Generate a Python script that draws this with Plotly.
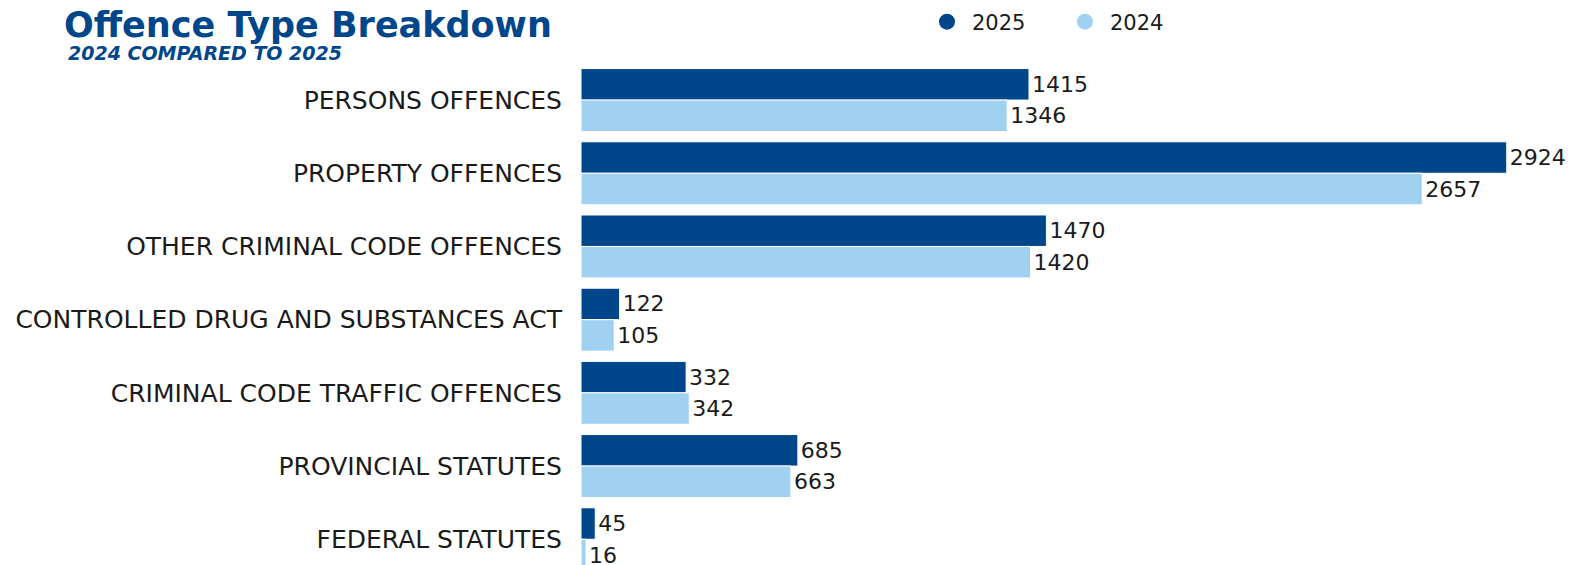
import plotly.graph_objects as go

categories = [
    "PERSONS OFFENCES",
    "PROPERTY OFFENCES",
    "OTHER CRIMINAL CODE OFFENCES",
    "CONTROLLED DRUG AND SUBSTANCES ACT",
    "CRIMINAL CODE TRAFFIC OFFENCES",
    "PROVINCIAL STATUTES",
    "FEDERAL STATUTES",
]
values_2025 = [1415, 2924, 1470, 122, 332, 685, 45]
values_2024 = [1346, 2657, 1420, 105, 342, 663, 16]

DARK = "#00468A"
LIGHT = "#A1D1F1"
FONT = "DejaVu Sans"
TXT = "#1a1a1a"

W, H = 1584, 565
L, T = 573, 54
PW, PH = W - L, H - T

fig = go.Figure()
fig.add_trace(go.Bar(
    y=categories, x=values_2025, orientation="h", name="2025",
    marker=dict(color=DARK, line=dict(color="white", width=1)),
    text=[str(v) for v in values_2025], textposition="outside",
    textfont=dict(size=22, color=TXT, family=FONT),
    cliponaxis=False, showlegend=False,
))
fig.add_trace(go.Bar(
    y=categories, x=values_2024, orientation="h", name="2024",
    marker=dict(color=LIGHT, line=dict(color="white", width=1)),
    text=[str(v) for v in values_2024], textposition="outside",
    textfont=dict(size=22, color=TXT, family=FONT),
    cliponaxis=False, showlegend=False,
))
# legend entries with circular markers
for name, col in [("2025", DARK), ("2024", LIGHT)]:
    fig.add_trace(go.Scatter(
        x=[None], y=[None], mode="markers", name=name,
        marker=dict(symbol="circle", size=24, color=col),
        showlegend=True,
    ))

fig.update_layout(
    width=W, height=H,
    margin=dict(l=L, r=0, t=T, b=0, autoexpand=False),
    paper_bgcolor="white", plot_bgcolor="white",
    barmode="group", bargap=0.14, bargroupgap=0.0,
    font=dict(family=FONT, color=TXT),
    showlegend=True,
    legend=dict(
        orientation="h", xref="container", yref="container",
        x=914 / W, y=1 - 14 / H, xanchor="left", yanchor="middle",
        font=dict(size=21, family=FONT, color=TXT),
        itemsizing="trace", traceorder="normal", itemwidth=40,
        entrywidth=83, entrywidthmode="pixels",
        bgcolor="rgba(0,0,0,0)",
    ),
    xaxis=dict(range=[0, PW / 0.3166], showgrid=False, zeroline=False,
               showticklabels=False, showline=False, fixedrange=True),
    yaxis=dict(categoryorder="array", categoryarray=categories,
               range=[-0.52 + PH / 73.2, -0.52], showgrid=False, zeroline=False,
               showline=False, ticks="", ticklabelstandoff=18,
               tickfont=dict(size=25, family=FONT, color=TXT)),
)
fig.add_annotation(text="<b>Offence Type Breakdown</b>", xref="paper", yref="paper",
                   x=(54 - L) / PW, y=1 + (T - 17) / PH, xanchor="left", yanchor="middle",
                   showarrow=False, font=dict(size=35, color=DARK, family=FONT))
fig.add_annotation(text="<b><i>2024 COMPARED TO 2025</i></b>", xref="paper", yref="paper",
                   x=(58 - L) / PW, y=1 + (T - 45) / PH, xanchor="left", yanchor="middle",
                   showarrow=False, font=dict(size=19, color=DARK, family=FONT))

fig.write_html("out.html")
